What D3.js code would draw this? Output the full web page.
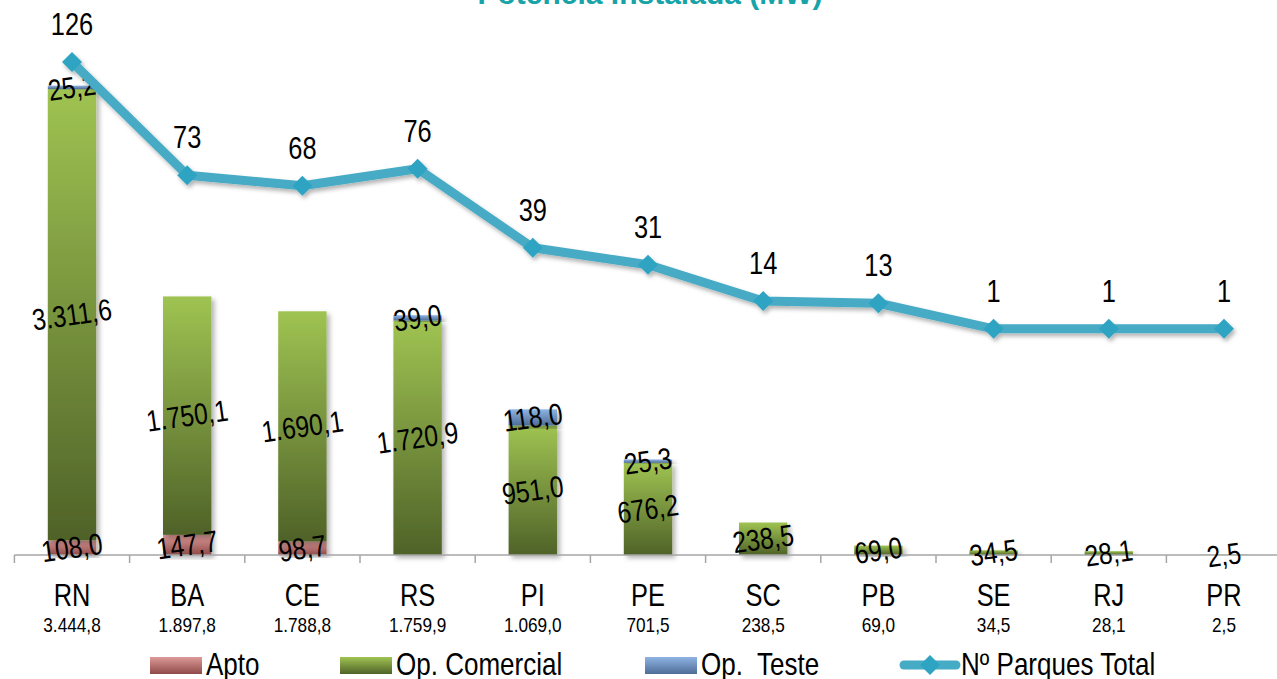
<!DOCTYPE html>
<html>
<head>
<meta charset="utf-8">
<script src="https://cdn.jsdelivr.net/npm/d3@7"></script>
<style>
  html, body { margin: 0; padding: 0; background: #fff; }
  svg { display: block; }
  text { font-family: "Liberation Sans", Arial, sans-serif; }
</style>
</head>
<body>
<svg id="chart" width="1277" height="679"></svg>
<script>
// Wind parks by state: installed capacity (MW) split by status, plus park count
const states      = ["RN", "BA", "CE", "RS", "PI", "PE", "SC", "PB", "SE", "RJ", "PR"];
const apto        = [108.0, 147.7, 98.7, 0, 0, 0, 0, 0, 0, 0, 0];
const opComercial = [3311.6, 1750.1, 1690.1, 1720.9, 951.0, 676.2, 238.5, 69.0, 34.5, 28.1, 2.5];
const opTeste     = [25.2, 0, 0, 39.0, 118.0, 25.3, 0, 0, 0, 0, 0];
const parques     = [126, 73, 68, 76, 39, 31, 14, 13, 1, 1, 1];
const seriesNames = ["Apto", "Op. Comercial", "Op.  Teste"];
const lineName    = "Nº Parques Total";
const title       = "Potência Instalada (MW)";

const fmt = v => {
  const s = v.toFixed(1).split(".");
  const int = s[0].replace(/\B(?=(\d{3})+(?!\d))/g, ".");
  return int + "," + s[1];
};

// condensed lettering: regular sans squeezed horizontally
const NARROW = 0.82;
function narrowText(g, x, y, str, size, opts = {}) {
  const rot = opts.rotate ? ` rotate(${opts.rotate})` : "";
  const sx = opts.squeeze || NARROW;
  return g.append("text")
    .attr("transform", `translate(${x},${y})${rot} scale(${sx},1)`)
    .attr("text-anchor", opts.anchor || "middle")
    .attr("dominant-baseline", opts.baseline || "auto")
    .attr("font-size", size).attr("fill", "#000")
    .attr("xml:space", "preserve")
    .text(str);
}

const svg = d3.select("#chart");
const baseY = 555;

const x = d3.scaleBand().domain(states).range([14.4, 1281.6]).paddingInner(0.58).paddingOuter(0.29);
const xStep = d3.scaleBand().domain(states).range([14.4, 1281.6]);
const y = d3.scaleLinear().domain([0, 4000]).range([baseY, 10]);
const y2 = d3.scaleLinear().domain([0, 126]).range([331, 62]);

// Gradients and shadows
const defs = svg.append("defs");
const grads = [
  { id: "gApto", top: "#dc9a98", bot: "#8f4a48" },
  { id: "gCom",  top: "#9fc352", bot: "#4f6228" },
  { id: "gTes",  top: "#8fb4e3", bot: "#4e6c97" }
];
grads.forEach(g => {
  const lg = defs.append("linearGradient").attr("id", g.id)
    .attr("x1", 0).attr("y1", 0).attr("x2", 0).attr("y2", 1);
  lg.append("stop").attr("offset", "0%").attr("stop-color", g.top);
  lg.append("stop").attr("offset", "100%").attr("stop-color", g.bot);
});
const sh = defs.append("filter").attr("id", "shadow")
  .attr("x", "-30%").attr("y", "-10%").attr("width", "160%").attr("height", "130%");
sh.append("feDropShadow").attr("dx", 3).attr("dy", 3).attr("stdDeviation", 2.5)
  .attr("flood-color", "#000").attr("flood-opacity", 0.3);
const shL = defs.append("filter").attr("id", "lshadow")
  .attr("x", "-10%").attr("y", "-20%").attr("width", "120%").attr("height", "160%");
shL.append("feDropShadow").attr("dx", 2).attr("dy", 3).attr("stdDeviation", 2)
  .attr("flood-color", "#000").attr("flood-opacity", 0.3);

// Title
svg.append("text").attr("x", 650).attr("y", 4).attr("text-anchor", "middle")
  .attr("font-weight", "bold").attr("font-size", 30).attr("fill", "#17a3a8")
  .text(title);

// Stacked bars
const rows = states.map((s, i) => ({ state: s, Apto: apto[i], Com: opComercial[i], Tes: opTeste[i] }));
const stack = d3.stack().keys(["Apto", "Com", "Tes"])(rows);
const fills = ["url(#gApto)", "url(#gCom)", "url(#gTes)"];

const barG = svg.append("g");
stack.forEach((layer, li) => {
  barG.append("g").selectAll("rect").data(layer).join("rect")
    .attr("x", d => x(d.data.state))
    .attr("width", x.bandwidth())
    .attr("y", d => y(d[1]))
    .attr("height", d => Math.max(0, y(d[0]) - y(d[1])))
    .attr("fill", fills[li])
    .attr("filter", "url(#shadow)");
});

// Category axis
const axis = svg.append("g").attr("transform", `translate(0,${baseY})`);
axis.append("line").attr("x1", 14.4).attr("x2", 1281.6).attr("y1", 0).attr("y2", 0)
  .attr("stroke", "#a6a6a6").attr("stroke-width", 1.5);
const tickXs = states.map(s => xStep(s)).concat([xStep(states[states.length - 1]) + xStep.step()]);
axis.selectAll("line.tick").data(tickXs).join("line").attr("class", "tick")
  .attr("x1", d => d).attr("x2", d => d).attr("y1", 0).attr("y2", 8)
  .attr("stroke", "#a6a6a6").attr("stroke-width", 1.5);

// Category labels and totals
const totals = states.map((s, i) => apto[i] + opComercial[i] + opTeste[i]);
const cx = s => x(s) + x.bandwidth() / 2;
const catG = svg.append("g");
states.forEach((s, i) => {
  narrowText(catG, cx(s), 606, s, 31);
  narrowText(catG, cx(s), 632, fmt(totals[i]), 21);
});

// Segment value labels
const labG = svg.append("g");
stack.forEach(layer => {
  layer.filter(d => d[1] - d[0] > 0).forEach(d => {
    const lx = cx(d.data.state);
    const ly = (y(d[0]) + y(d[1])) / 2;
    narrowText(labG, lx, ly, fmt(d[1] - d[0]), 30, { rotate: -8, baseline: "central" });
  });
});

// Park count line
const line = d3.line().x((d, i) => cx(states[i])).y(d => y2(d));
const lineG = svg.append("g").attr("filter", "url(#lshadow)");
lineG.append("path").datum(parques).attr("d", line)
  .attr("fill", "none").attr("stroke", "#46abc5").attr("stroke-width", 9)
  .attr("stroke-linejoin", "round");
lineG.selectAll("path.mk").data(parques).join("path").attr("class", "mk")
  .attr("d", "M0,-10L10,0L0,10L-10,0Z")
  .attr("transform", (d, i) => `translate(${cx(states[i])},${y2(d)})`)
  .attr("fill", "#2fa3c2");
const plG = svg.append("g");
parques.forEach((d, i) => narrowText(plG, cx(states[i]), y2(d) - 27, String(d), 31));

// Legend
const leg = svg.append("g");
const legItems = [
  { name: seriesNames[0], fill: "url(#gApto)", sx: 150, tx: 206 },
  { name: seriesNames[1], fill: "url(#gCom)",  sx: 340, tx: 396 },
  { name: seriesNames[2], fill: "url(#gTes)",  sx: 645, tx: 701 }
];
legItems.forEach(it => {
  leg.append("rect").attr("x", it.sx).attr("y", 657).attr("width", 52).attr("height", 17)
    .attr("fill", it.fill);
  narrowText(leg, it.tx, 675, it.name, 31, { anchor: "start", squeeze: 0.84 });
});
leg.append("line").attr("x1", 904).attr("x2", 956).attr("y1", 665).attr("y2", 665)
  .attr("stroke", "#46abc5").attr("stroke-width", 9).attr("stroke-linecap", "round");
leg.append("path").attr("d", "M0,-10L10,0L0,10L-10,0Z")
  .attr("transform", "translate(930,665)").attr("fill", "#2fa3c2");
narrowText(leg, 961, 675, lineName, 31, { anchor: "start", squeeze: 0.84 });
</script>
</body>
</html>
